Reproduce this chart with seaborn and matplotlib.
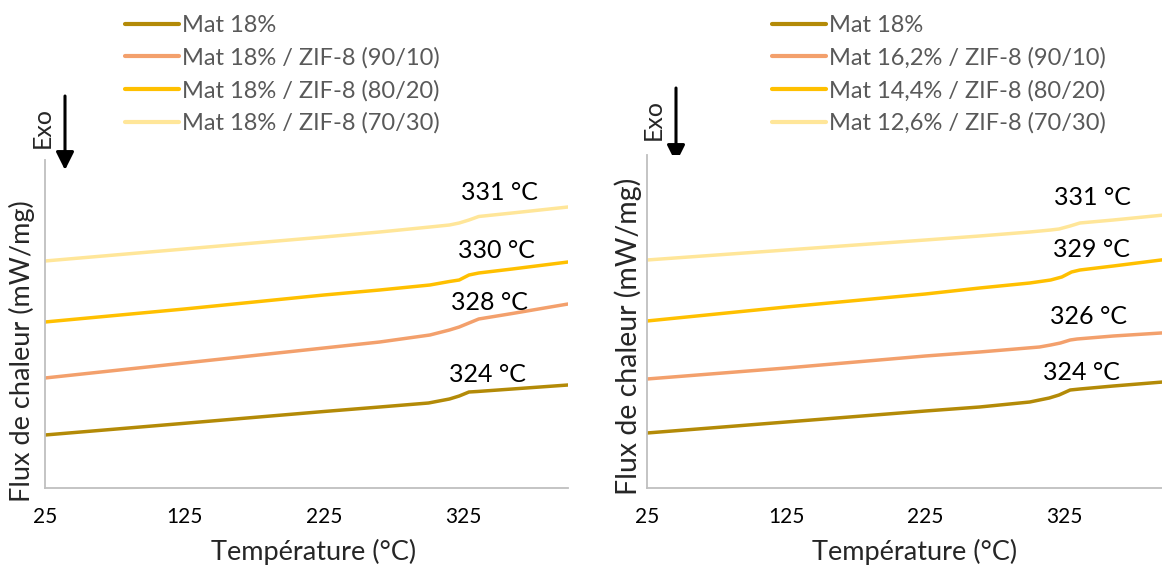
import matplotlib
matplotlib.use("Agg")
import matplotlib.pyplot as plt
import pandas as pd
import seaborn as sns

# ------------------------------------------------------------------
# Données lues sur les thermogrammes (unités arbitraires en ordonnée)
# ------------------------------------------------------------------
# Graphe de gauche
g_T_mat = [25, 125, 225, 265, 300, 315, 322, 329, 335, 360, 400]
g_y_mat = [0.53, 0.647, 0.765, 0.81, 0.85, 0.89, 0.92, 0.96, 0.965, 0.99, 1.03]
g_T_9010 = [25, 125, 225, 265, 301, 315, 322, 329, 336, 360, 400]
g_y_9010 = [1.10, 1.25, 1.40, 1.46, 1.53, 1.58, 1.61, 1.65, 1.69, 1.745, 1.84]
g_T_8020 = [25, 125, 225, 265, 301, 315, 322, 329, 336, 360, 400]
g_y_8020 = [1.66, 1.79, 1.93, 1.98, 2.03, 2.065, 2.08, 2.13, 2.15, 2.19, 2.26]
g_T_7030 = [25, 125, 225, 265, 301, 315, 322, 329, 336, 360, 400]
g_y_7030 = [2.27, 2.39, 2.51, 2.56, 2.61, 2.63, 2.65, 2.68, 2.715, 2.75, 2.81]

# Graphe de droite
d_T_mat = [25, 125, 225, 264, 300, 314, 321, 329, 336, 360, 400]
d_y_mat = [0.55, 0.66, 0.77, 0.81, 0.86, 0.90, 0.93, 0.98, 0.99, 1.02, 1.065]
d_T_9010 = [25, 125, 225, 264, 307, 315, 322, 329, 334, 360, 400]
d_y_9010 = [1.09, 1.20, 1.32, 1.36, 1.41, 1.43, 1.45, 1.48, 1.49, 1.52, 1.555]
d_T_8020 = [25, 125, 225, 264, 300, 315, 323, 330, 336, 360, 400]
d_y_8020 = [1.67, 1.81, 1.94, 2.00, 2.05, 2.08, 2.11, 2.16, 2.18, 2.22, 2.29]
d_T_7030 = [25, 125, 225, 264, 300, 315, 321, 329, 336, 360, 400]
d_y_7030 = [2.28, 2.38, 2.48, 2.52, 2.56, 2.58, 2.59, 2.62, 2.65, 2.68, 2.735]

noms_gauche = ["Mat 18%", "Mat 18% / ZIF-8 (90/10)",
               "Mat 18% / ZIF-8 (80/20)", "Mat 18% / ZIF-8 (70/30)"]
noms_droite = ["Mat 18%", "Mat 16,2% / ZIF-8 (90/10)",
               "Mat 14,4% / ZIF-8 (80/20)", "Mat 12,6% / ZIF-8 (70/30)"]

# Températures de transition (texte, x, y)
tg_gauche = [("324 °C", 342, 1.13), ("328 °C", 344, 1.85),
             ("330 °C", 348.5, 2.37), ("331 °C", 351, 2.95)]
tg_droite = [("324 °C", 337, 1.15), ("326 °C", 342, 1.71),
             ("329 °C", 344.5, 2.38), ("331 °C", 345, 2.90)]

couleurs = ["#B38A07", "#F3A06C", "#FFC000", "#FFE699"]
x_ticks = [25, 125, 225, 325]

# ------------------------------------------------------------------
# Mise en forme des données
# ------------------------------------------------------------------
def construire(noms, Ts, ys):
    morceaux = []
    for nom, T, y in zip(noms, Ts, ys):
        morceaux.append(pd.DataFrame({"T": T, "flux": y, "echantillon": nom}))
    return pd.concat(morceaux, ignore_index=True)

df_g = construire(noms_gauche, [g_T_mat, g_T_9010, g_T_8020, g_T_7030],
                  [g_y_mat, g_y_9010, g_y_8020, g_y_7030])
df_d = construire(noms_droite, [d_T_mat, d_T_9010, d_T_8020, d_T_7030],
                  [d_y_mat, d_y_9010, d_y_8020, d_y_7030])

# ------------------------------------------------------------------
# Figure
# ------------------------------------------------------------------
sns.set_style("white")
plt.rcParams['font.family'] = ['Lato', 'DejaVu Sans']

fig = plt.figure(figsize=(11.62, 5.68), dpi=100)
ax_g = fig.add_axes([45 / 1162, 1 - 488 / 568, 523 / 1162, 328 / 568])
ax_d = fig.add_axes([647 / 1162, 1 - 488 / 568, 522 / 1162, 333 / 568])

gris = "#BFBFBF"

for ax, df, noms, tg, ytop, leg_x in [
        (ax_g, df_g, noms_gauche, tg_gauche, 3.28, 125),
        (ax_d, df_d, noms_droite, tg_droite, 3.33, 772)]:
    sns.lineplot(data=df, x="T", y="flux", hue="echantillon", hue_order=noms,
                 palette=couleurs, linewidth=2.5, ax=ax, legend=False,
                 sort=False, estimator=None)
    ax.set_xlim(25, 400)
    ax.set_ylim(0, ytop)
    ax.set_xticks(x_ticks)
    ax.set_yticks([])
    ax.set_xlabel("")
    ax.set_ylabel("")
    for s in ["top", "right"]:
        ax.spines[s].set_visible(False)
    for s in ["left", "bottom"]:
        ax.spines[s].set_color(gris)
        ax.spines[s].set_linewidth(1.3)
    ax.tick_params(axis="x", direction="out", length=6, width=1.3, color=gris,
                   labelsize=15, labelcolor="black", pad=8)

    for txt, x, y in tg:
        ax.text(x, y, txt, ha="center", va="center", fontsize=18, color="black")

    handles = [plt.Line2D([], [], color=c, lw=3, solid_capstyle="round")
               for c in couleurs]
    ax.legend(handles, noms, loc="upper left",
              bbox_to_anchor=(leg_x / 1162, 1 - 15 / 568),
              bbox_transform=fig.transFigure, frameon=False, fontsize=17,
              handlelength=2.3, handletextpad=0.12, labelspacing=0.47,
              borderpad=0, borderaxespad=0, labelcolor="#595959")

# Titres des axes
fig.text(314 / 1162, 1 - 552 / 568, "Température (°C)", ha="center",
         va="center", fontsize=19.5)
fig.text(915 / 1162, 1 - 552 / 568, "Température (°C)", ha="center",
         va="center", fontsize=19.5)
fig.text(22 / 1162, 0.381, "Flux de chaleur (mW/mg)", ha="center",
         va="center", rotation=90, fontsize=19.5)
fig.text(628 / 1162, 0.408, "Flux de chaleur (mW/mg)", ha="center",
         va="center", rotation=90, fontsize=20.5)

# Flèches Exo
for x_txt, y_txt, x_fl, y_haut, y_bas in [(42, 127, 65, 96, 170),
                                          (653, 120, 676, 88, 163)]:
    fig.text(x_txt / 1162, 1 - y_txt / 568, "Exo", ha="center", va="center",
             rotation=90, fontsize=18)
    ax_g.annotate("", xy=(x_fl / 1162, 1 - y_bas / 568),
                  xytext=(x_fl / 1162, 1 - y_haut / 568),
                  xycoords="figure fraction", textcoords="figure fraction",
                  arrowprops=dict(arrowstyle="-|>,head_length=0.4,head_width=0.2",
                                  color="black", lw=2.2, mutation_scale=27,
                                  shrinkA=0, shrinkB=0),
                  annotation_clip=False)

fig.savefig("out.png", dpi=100)
